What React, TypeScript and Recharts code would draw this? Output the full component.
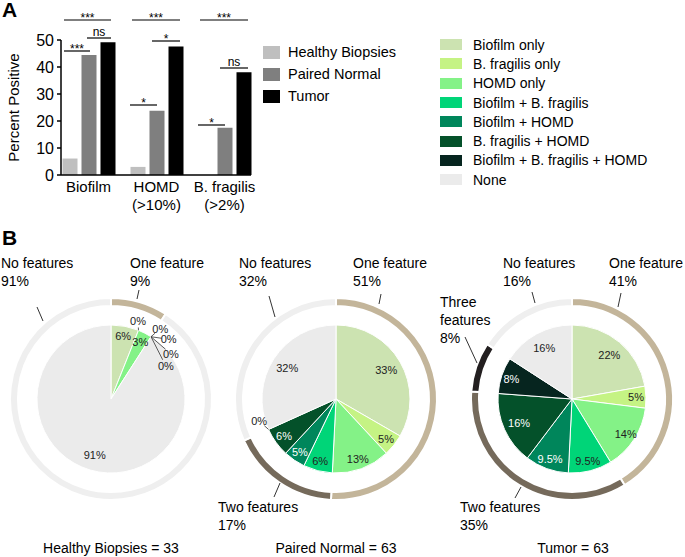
import React from "react"
import { Bar, BarChart, XAxis, YAxis, Legend, PieChart, Pie, Cell } from "recharts"

const FONT = '"Liberation Sans", Arial, sans-serif'

// ---- panel A data
const groups = ["Biofilm", "HOMD\n(>10%)", "B. fragilis\n(>2%)"]
const healthy = [6.1, 3.0, 0]
const paired = [44.4, 23.8, 17.5]
const tumor = [49.2, 47.6, 38.1]
const yTicks = [0, 10, 20, 30, 40, 50]

// ---- panel B data (counts per feature combination)
const features = [
  "Biofilm only",
  "B. fragilis only",
  "HOMD only",
  "Biofilm + B. fragilis",
  "Biofilm + HOMD",
  "B. fragilis + HOMD",
  "Biofilm + B. fragilis + HOMD",
  "None",
]
const featureColors = ["#cce3b1", "#c5f384", "#84f287", "#00d578", "#00865b", "#04512a", "#06251f", "#ebebeb"]
const healthyCounts = [2, 0, 1, 0, 0, 0, 0, 30]
const pairedCounts = [21, 3, 8, 4, 3, 4, 0, 20]
const tumorCounts = [14, 3, 9, 6, 6, 10, 5, 10]
const healthyLabels = ["6%", "0%", "3%", "0%", "0%", "0%", "0%", "91%"]
const pairedLabels = ["33%", "5%", "13%", "6%", "5%", "6%", "0%", "32%"]
const tumorLabels = ["22%", "5%", "14%", "9.5%", "9.5%", "16%", "8%", "16%"]

const ringNames = ["One feature", "Two features", "Three features", "No features"]
const ringColors = ["#c3b59a", "#756a5b", "#231f20", "#efefef"]

const barData = groups.map((g, i) => ({ group: g, healthy: healthy[i], paired: paired[i], tumor: tumor[i] }))

const ringData = (c: number[]) => {
  const vals = [c[0] + c[1] + c[2], c[3] + c[4] + c[5], c[6], c[7]]
  return ringNames.map((name, i) => ({ name, value: vals[i] }))
}

// significance brackets (page px)
const brackets = [
  { x1: 64, x2: 111, y: 20, t: "***" },
  { x1: 132, x2: 180, y: 20, t: "***" },
  { x1: 200, x2: 248, y: 20, t: "***" },
  { x1: 64, x2: 90, y: 51, t: "***" },
  { x1: 87, x2: 111, y: 38, t: "ns" },
  { x1: 130, x2: 157, y: 105, t: "*" },
  { x1: 152, x2: 180, y: 41, t: "*" },
  { x1: 198, x2: 225, y: 125, t: "*" },
  { x1: 220, x2: 248, y: 68, t: "ns" },
]

// ring callouts (page px)
const ringNotes = [
  { lines: ["No features", "91%"], x: 1, y: 268, lead: [37, 307, 43, 321] },
  { lines: ["One feature", "9%"], x: 130, y: 268, lead: [139, 290, 137, 299] },
  { lines: ["No features", "32%"], x: 239, y: 268, lead: [269, 296, 275, 317] },
  { lines: ["One feature", "51%"], x: 353, y: 268, lead: [381, 294, 379, 304] },
  { lines: ["Two features", "17%"], x: 218, y: 512, lead: [280, 483, 274, 497] },
  { lines: ["No features", "16%"], x: 503, y: 268, lead: [532, 292, 535, 303] },
  { lines: ["One feature", "41%"], x: 609, y: 268, lead: [621, 293, 618, 307] },
  { lines: ["Three", "features", "8%"], x: 440, y: 307, lead: [465, 337, 477, 363] },
  { lines: ["Two features", "35%"], x: 460, y: 512, lead: [521, 487, 515, 498] },
]

const titles = [
  { text: "Healthy Biopsies = 33", x: 111 },
  { text: "Paired Normal = 63", x: 336 },
  { text: "Tumor = 63", x: 573 },
]

const RAD = Math.PI / 180

const GroupTick = ({ x, y, payload }: any) => {
  const lines = String(payload.value).split("\n")
  return (
    <text x={x} y={y} textAnchor="middle" fontSize={15} fill="#000" fontFamily={FONT}>
      {lines.map((l, i) => (
        <tspan key={i} x={x} dy={i === 0 ? 9 : 18}>
          {l}
        </tspan>
      ))}
    </text>
  )
}

const BarKey = ({ payload }: any) => (
  <div style={{ fontSize: 14.5, color: "#000", fontFamily: FONT }}>
    {(payload || []).map((e: any) => (
      <div key={e.value} style={{ display: "flex", alignItems: "center", height: 22 }}>
        <span style={{ display: "inline-block", width: 17, height: 13, background: e.color, marginRight: 8 }} />
        {e.value}
      </div>
    ))}
  </div>
)

// zero slices get their label pushed out, [deg clockwise from top, radius]
const makeLabel = (labels: string[], spots: Record<number, number[]>) => (p: any) => {
  const { cx, cy, midAngle, outerRadius, index, percent } = p
  const spot = spots[index]
  if (spot) {
    const tx = cx + spot[1] * Math.sin(spot[0] * RAD)
    const ty = cy - spot[1] * Math.cos(spot[0] * RAD)
    const ex = cx + outerRadius * Math.cos(-midAngle * RAD)
    const ey = cy + outerRadius * Math.sin(-midAngle * RAD)
    const d = Math.hypot(ex - tx, ey - ty) || 1
    const sx = tx + ((ex - tx) / d) * 7
    const sy = ty + ((ey - ty) / d) * 7
    return (
      <g key={index}>
        <line x1={sx} y1={sy} x2={ex} y2={ey} stroke="#333" strokeWidth={0.8} />
        <text x={tx} y={ty} textAnchor="middle" dominantBaseline="central" fontSize={11} fill="#222" fontFamily={FONT}>
          {labels[index]}
        </text>
      </g>
    )
  }
  const r = percent < 0.15 ? 64 : 58
  const x = cx + r * Math.cos(-midAngle * RAD)
  const y = cy + r * Math.sin(-midAngle * RAD)
  return (
    <text key={index} x={x} y={y} textAnchor="middle" dominantBaseline="central" fontSize={11}
      fill={index >= 4 && index <= 6 ? "#fff" : "#222"} fontFamily={FONT}>
      {labels[index]}
    </text>
  )
}

function FeaturePie({ counts, labels, spots, left }: { counts: number[]; labels: string[]; spots: Record<number, number[]>; left: number }) {
  const slices = features.map((name, i) => ({ name, value: counts[i] }))
  const ring = ringData(counts)
  return (
    <div style={{ position: "absolute", left, top: 220 }}>
      <PieChart width={228} height={337} margin={{ top: 0, right: 0, bottom: 0, left: 0 }}>
        <Pie data={ring} dataKey="value" cx={111} cy={179} innerRadius={93} outerRadius={101}
          startAngle={90} endAngle={-270} stroke="#fff" strokeWidth={2} isAnimationActive={false}>
          {ring.map((r, i) => <Cell key={r.name} fill={ringColors[i]} />)}
        </Pie>
        <Pie data={slices} dataKey="value" cx={111} cy={179} outerRadius={74} startAngle={90} endAngle={-270}
          stroke="#fff" strokeWidth={1} label={makeLabel(labels, spots)} labelLine={false} isAnimationActive={false}>
          {slices.map((s, i) => <Cell key={s.name} fill={featureColors[i]} />)}
        </Pie>
      </PieChart>
    </div>
  )
}

export default function App() {
  return (
    <div style={{ position: "absolute", left: 0, top: 0, width: 685, height: 557, background: "#fff", fontFamily: FONT }}>
      <div style={{ position: "absolute", left: 0, top: 0 }}>
        <BarChart width={420} height={220} data={barData} barGap={4} margin={{ top: 40, right: 169, bottom: 0, left: 0 }}>
          <XAxis dataKey="group" height={45} tick={<GroupTick />} tickLine={false} interval={0}
            axisLine={{ stroke: "#000", strokeWidth: 1.5 }} padding={{ left: -6.5, right: -7.5 }} />
          <YAxis width={61} domain={[0, 50]} ticks={yTicks} tickSize={4} tickMargin={3}
            axisLine={{ stroke: "#000", strokeWidth: 1.5 }} tickLine={{ stroke: "#000", strokeWidth: 1.5 }}
            tick={{ fontSize: 16, fill: "#000", fontFamily: FONT }}
            label={{ value: "Percent Positive", angle: -90, position: "insideLeft", offset: 14, style: { textAnchor: "middle", fontSize: 15, fill: "#000", fontFamily: FONT } }} />
          <Legend layout="horizontal" verticalAlign="middle" align="center" content={<BarKey />}
            wrapperStyle={{ left: 263, top: 41, width: 150 }} />
          <Bar dataKey="healthy" name="Healthy Biopsies" fill="#bfbfbf" barSize={15} isAnimationActive={false} />
          <Bar dataKey="paired" name="Paired Normal" fill="#7f7f7f" barSize={15} isAnimationActive={false} />
          <Bar dataKey="tumor" name="Tumor" fill="#000" barSize={15} isAnimationActive={false} />
        </BarChart>
      </div>

      <div style={{ position: "absolute", left: 440, top: 35, fontSize: 14, color: "#000" }}>
        {features.map((f, i) => (
          <div key={f} style={{ display: "flex", alignItems: "center", height: 19.3 }}>
            <span style={{ display: "inline-block", width: 22, height: 11, background: featureColors[i], marginRight: 11 }} />
            {f}
          </div>
        ))}
      </div>

      <FeaturePie counts={healthyCounts} labels={healthyLabels} left={0}
        spots={{ 1: [19, 83], 3: [35, 86], 4: [44, 83], 5: [53, 75], 6: [59, 64] }} />
      <FeaturePie counts={pairedCounts} labels={pairedLabels} left={225} spots={{ 6: [254, 80] }} />
      <FeaturePie counts={tumorCounts} labels={tumorLabels} left={461} spots={{}} />

      <svg width={685} height={557} style={{ position: "absolute", left: 0, top: 0, pointerEvents: "none" }}>
        <text x={2} y={17} fontSize={21} fontWeight="bold" fill="#000" fontFamily={FONT}>A</text>
        <text x={2} y={245} fontSize={21} fontWeight="bold" fill="#000" fontFamily={FONT}>B</text>
        {brackets.map((b, i) => (
          <g key={i}>
            <line x1={b.x1} x2={b.x2} y1={b.y} y2={b.y} stroke="#000" strokeWidth={1.2} />
            <text x={(b.x1 + b.x2) / 2} y={b.t === "ns" ? b.y - 2 : b.y + 2} textAnchor="middle"
              fontSize={12} fill="#000" fontFamily={FONT}>
              {b.t}
            </text>
          </g>
        ))}
        {ringNotes.map((n, i) => (
          <g key={i}>
            <line x1={n.lead[0]} y1={n.lead[1]} x2={n.lead[2]} y2={n.lead[3]} stroke="#333" strokeWidth={1} />
            <text x={n.x} y={n.y} fontSize={14} fill="#000" fontFamily={FONT}>
              {n.lines.map((l, j) => (
                <tspan key={j} x={n.x} dy={j === 0 ? 0 : 18}>{l}</tspan>
              ))}
            </text>
          </g>
        ))}
        {titles.map((t) => (
          <text key={t.text} x={t.x} y={553} textAnchor="middle" fontSize={14} fill="#000" fontFamily={FONT}>
            {t.text}
          </text>
        ))}
      </svg>
    </div>
  )
}
